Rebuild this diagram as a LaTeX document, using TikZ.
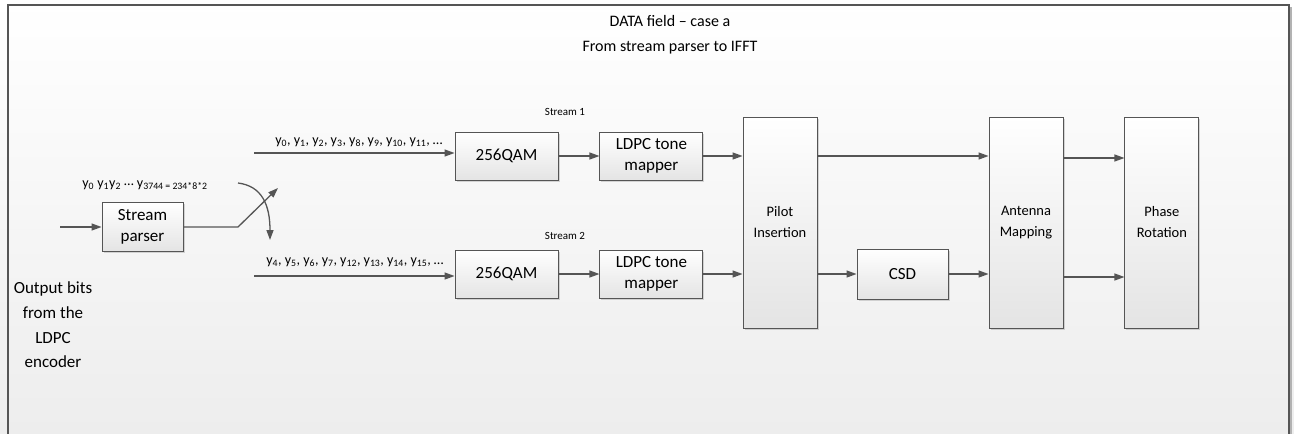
\documentclass[tikz,border=0pt]{standalone}
\usepackage{fontspec}
\setmainfont{Carlito}
\usetikzlibrary{positioning,arrows.meta,shadows}
\definecolor{linegray}{HTML}{555555}
\definecolor{boxgray}{HTML}{E4E4E4}
\definecolor{bggray}{HTML}{EDEDED}

\begin{document}
\begin{tikzpicture}[x=1pt,y=-1pt,
				block/.style={rectangle, draw=linegray, line width=0.9pt, top color=white, bottom color=boxgray, drop shadow={shadow xshift=1.5pt, shadow yshift=-1.5pt, opacity=0.3}, align=center, inner sep=0pt, font=\fontsize{17}{21}\selectfont},
				wide/.style={block, minimum width=103pt, minimum height=48pt},
				tall/.style={block, minimum width=74pt, minimum height=211pt, font=\fontsize{14.5}{21}\selectfont},
				seq/.style={inner sep=0pt, font=\fontsize{14}{16}\selectfont},
				flow/.style={draw=linegray, line width=1.3pt, -{Triangle[length=10pt,width=7pt]}}
			]
			\useasboundingbox (0,0) rectangle (1294,434);
			\shade[top color=white, bottom color=bggray] (0,0) rectangle (1294,434);
			\draw[gray!60, line width=1.5pt] (1291,7) -- (1291,434);
			\draw[linegray, line width=1.2pt] (8,434) -- (8,5) -- (1289,5) -- (1289,434);
			\node[align=center, font=\fontsize{16}{25}\selectfont] (title) at (670,34.5) {DATA field -- case a\\From stream parser to IFFT};
			\node[block, minimum width=81pt, minimum height=49pt] (parser) at (142.5,227) {Stream\\parser};
			\node[wide] (qam1) at (506.5,156) {256QAM};
			\node[wide] (tone1) [right=41pt of qam1] {LDPC tone\\mapper};
			\node[wide] (qam2) at (506.5,274) {256QAM};
			\node[wide] (tone2) [right=41pt of qam2] {LDPC tone\\mapper};
			\node[tall] (pilot) at (780,222.5) {Pilot\\Insertion};
			\node[block, minimum width=91pt, minimum height=50pt] (csd) at (902.5,274) {CSD};
			\node[tall] (antenna) at (1026,222.5) {Antenna\\Mapping};
			\node[tall] (phase) [right=61pt of antenna] {Phase\\Rotation};
			\node[align=center, font=\fontsize{17}{24.7}\selectfont] (source) at (53,325) {Output bits\\from the\\LDPC\\encoder};
			\node[seq] (bits) at (145,185) {y\textsubscript{0} y\textsubscript{1}y\textsubscript{2} \raisebox{2pt}{…} y\textsubscript{3744 = 234*8*2}};
			\node[seq] (seq1) at (359,142) {y\textsubscript{0}, y\textsubscript{1}, y\textsubscript{2}, y\textsubscript{3}, y\textsubscript{8}, y\textsubscript{9}, y\textsubscript{10}, y\textsubscript{11}, …};
			\node[seq] (seq2) at (355,262) {y\textsubscript{4}, y\textsubscript{5}, y\textsubscript{6}, y\textsubscript{7}, y\textsubscript{12}, y\textsubscript{13}, y\textsubscript{14}, y\textsubscript{15}, …};
			\node[font=\fontsize{11}{13}\selectfont] (lab1) at (565,112) {Stream 1};
			\node[font=\fontsize{11}{13}\selectfont] (lab2) at (565,236) {Stream 2};
			\coordinate (in0) at (60,227);
			\coordinate (s1) at (254,153);
			\coordinate (s2) at (254,276);
			\coordinate (bend) at (238,227);
			\coordinate (up) at (278,188);
			\coordinate (swa) at (238,183);
			\coordinate (swb) at (270,240);
			\begin{scope}[flow]
			\draw (in0) -- (parser.west |- in0);
			\draw (parser.east) -- (bend) -- (up);
			\draw (swa) .. controls (262,186) and (270,205) .. (swb);
			\draw (s1) -- (s1 -| qam1.west);
			\draw (s2) -- (s2 -| qam2.west);
			\draw (qam1) -- (tone1);
			\draw (qam2) -- (tone2);
			\draw (tone1) -- (tone1 -| pilot.west);
			\draw (tone2) -- (tone2 -| pilot.west);
			\draw (pilot.east |- tone1) -- (antenna.west |- tone1);
			\draw (pilot.east |- csd) -- (csd);
			\draw (csd) -- (csd -| antenna.west);
			\draw ([yshift=-2pt]antenna.east |- tone1) -- ([yshift=-2pt]phase.west |- tone1);
			\draw ([yshift=-3pt]antenna.east |- csd) -- ([yshift=-3pt]phase.west |- csd);
			\end{scope}
			\end{tikzpicture}
\end{document}
